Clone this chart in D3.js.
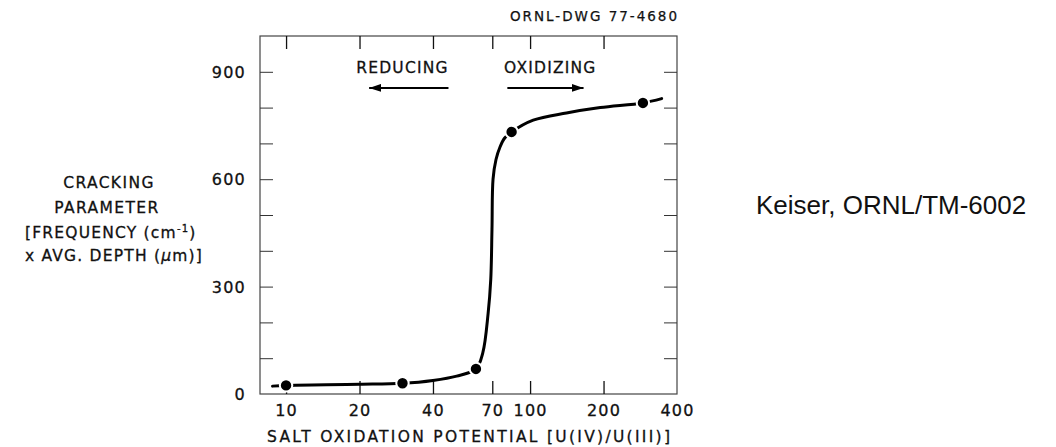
<!DOCTYPE html>
<html><head><meta charset="utf-8">
<script src="https://cdn.jsdelivr.net/npm/d3@7/dist/d3.min.js"></script>
<style>body{margin:0;background:#fff} svg{display:block} text{fill:#111}</style>
</head><body>
<svg id="c" width="1056" height="447"></svg>
<script>
// ---- data ----
const xTicks = [10, 20, 40, 70, 100, 200, 400];
const xTickLabels = ["10", "20", "40", "70", "100", "200", "400"];
const yTicks = [0, 100, 200, 300, 400, 500, 600, 700, 800, 900];
const yTickLabels = ["0", "", "", "300", "", "", "600", "", "", "900"];
const pointX = [10, 30, 60, 84, 290];
const pointY = [24, 30, 70, 732, 813];
const curveX = [8.8, 10, 20, 30, 40, 50, 60, 64, 67.3, 69, 69.8, 70.5, 72.5, 75.3, 78.7, 84, 103, 141, 194, 290, 346];
const curveY = [22, 24, 27, 30, 38, 50, 70, 115, 225, 320, 460, 600, 655, 690, 715, 732, 765, 785, 800, 813, 825];
const annoText = ["REDUCING", "OXIDIZING"];
const annoTextX = [30, 121];
const annoTextY = [897, 897];
const arrowFrom = [46.3, 80.7];
const arrowTo = [21.9, 165.6];
const arrowY = [855, 855];

const svg = d3.select("#c");
const x = d3.scaleLog().domain([7.82, 400]).range([260, 677]);
const y = d3.scaleLinear().domain([0, 1000]).range([394, 36]);
const FONT = "DejaVu Sans, sans-serif";

// frame
svg.append("rect").attr("x", x(7.82)).attr("y", y(1000))
  .attr("width", x(400) - x(7.82)).attr("height", y(0) - y(1000))
  .attr("fill", "none").attr("stroke", "#444").attr("stroke-width", 1.2);

// bottom axis
const gx = svg.append("g").attr("transform", `translate(0,${y(0)})`)
  .call(d3.axisBottom(x).tickValues(xTicks).tickSize(-13).tickPadding(11)
    .tickFormat((d, i) => xTickLabels[i]));
gx.select(".domain").remove();
gx.selectAll("line").attr("stroke", "#111").attr("stroke-width", 1.3)
  .filter(d => d === 400).remove();
gx.selectAll("text").attr("font-family", FONT).attr("font-size", 16)
  .attr("letter-spacing", 1.2).attr("fill", "#111")
  .attr("stroke", "#111").attr("stroke-width", 0.3);

// top axis ticks
const gt = svg.append("g").attr("transform", `translate(0,${y(1000)})`)
  .call(d3.axisTop(x).tickValues(xTicks.filter(d => d < 400)).tickSize(-13).tickFormat(""));
gt.select(".domain").remove();
gt.selectAll("line").attr("stroke", "#111").attr("stroke-width", 1.3);

// left axis
const gy = svg.append("g").attr("transform", `translate(${x(7.82)},0)`)
  .call(d3.axisLeft(y).tickValues(yTicks).tickSize(-13).tickPadding(14)
    .tickFormat((d, i) => yTickLabels[i]));
gy.select(".domain").remove();
gy.selectAll("line").attr("stroke", "#333").attr("stroke-width", 1)
  .filter(d => d === 0).remove();
gy.selectAll("text").attr("font-family", FONT).attr("font-size", 16)
  .attr("letter-spacing", 1.2).attr("fill", "#111").attr("dy", "0.36em")
  .attr("stroke", "#111").attr("stroke-width", 0.3);

// right axis ticks
const gr = svg.append("g").attr("transform", `translate(${x(400)},0)`)
  .call(d3.axisRight(y).tickValues(yTicks.filter(d => d > 0)).tickSize(-13).tickFormat(""));
gr.select(".domain").remove();
gr.selectAll("line").attr("stroke", "#333").attr("stroke-width", 1);

// curve
const curvePts = curveX.map((v, i) => [v, curveY[i]]);
svg.append("path").datum(curvePts)
  .attr("d", d3.line().x(d => x(d[0])).y(d => y(d[1])).curve(d3.curveCatmullRom.alpha(0.5)))
  .attr("fill", "none").attr("stroke", "#000").attr("stroke-width", 3)
  .attr("stroke-linecap", "round");

// points
svg.selectAll("circle.pt").data(pointX.map((v, i) => [v, pointY[i]])).enter()
  .append("circle").attr("class", "pt")
  .attr("cx", d => x(d[0])).attr("cy", d => y(d[1])).attr("r", 6.2)
  .attr("fill", "#000").attr("stroke", "#fff").attr("stroke-width", 2);

// annotations
svg.append("defs").append("marker").attr("id", "ah")
  .attr("viewBox", "0 0 12 8").attr("refX", 12).attr("refY", 4)
  .attr("markerWidth", 12).attr("markerHeight", 8).attr("markerUnits", "userSpaceOnUse")
  .attr("orient", "auto")
  .append("path").attr("d", "M0,0 L12,4 L0,8 Z").attr("fill", "#000");

annoText.forEach((t, i) => {
  svg.append("text").attr("x", x(annoTextX[i])).attr("y", y(annoTextY[i]))
    .attr("text-anchor", "middle").attr("font-family", FONT).attr("font-size", 15.5)
    .attr("letter-spacing", 1.2).attr("stroke", "#111").attr("stroke-width", 0.3).text(t);
  svg.append("line").attr("x1", x(arrowFrom[i])).attr("x2", x(arrowTo[i]))
    .attr("y1", y(arrowY[i])).attr("y2", y(arrowY[i]))
    .attr("stroke", "#000").attr("stroke-width", 2).attr("marker-end", "url(#ah)");
});

// drawing number
svg.append("text").attr("x", 510).attr("y", 21)
  .attr("font-family", FONT).attr("font-size", 13.5)
  .attr("textLength", 167).attr("lengthAdjust", "spacing")
  .attr("stroke", "#111").attr("stroke-width", 0.25)
  .text("ORNL-DWG 77-4680");

// y-axis label
const yl = [
  {t: "CRACKING", cx: 109, by: 188},
  {t: "PARAMETER", cx: 107, by: 213}
];
yl.forEach(l => {
  svg.append("text").attr("x", l.cx).attr("y", l.by).attr("text-anchor", "middle")
    .attr("font-family", FONT).attr("font-size", 15.5).attr("letter-spacing", 1.4)
    .attr("stroke", "#111").attr("stroke-width", 0.3).text(l.t);
});
const l3 = svg.append("text").attr("x", 25).attr("y", 238)
  .attr("font-family", FONT).attr("font-size", 15.5).attr("letter-spacing", 1.2)
  .attr("stroke", "#111").attr("stroke-width", 0.3);
l3.append("tspan").text("[FREQUENCY (cm");
l3.append("tspan").attr("dy", -6).attr("font-size", 10).text("-1");
l3.append("tspan").attr("dy", 6).text(")");
const l4 = svg.append("text").attr("x", 25).attr("y", 261)
  .attr("font-family", FONT).attr("font-size", 15.5).attr("letter-spacing", 1.2)
  .attr("stroke", "#111").attr("stroke-width", 0.3);
l4.append("tspan").text("x AVG. DEPTH (");
l4.append("tspan").attr("font-style", "italic").text("\u03bc");
l4.append("tspan").text("m)]");

// x-axis title
svg.append("text").attr("x", 267).attr("y", 442)
  .attr("font-family", FONT).attr("font-size", 15.5)
  .attr("textLength", 403).attr("lengthAdjust", "spacing")
  .attr("stroke", "#111").attr("stroke-width", 0.3)
  .text("SALT OXIDATION POTENTIAL [U(IV)/U(III)]");

// citation
svg.append("text").attr("x", 756).attr("y", 214)
  .attr("font-family", "Liberation Sans, Arial, sans-serif").attr("font-size", 26)
  .attr("fill", "#000").text("Keiser, ORNL/TM-6002");
</script>
</body></html>
